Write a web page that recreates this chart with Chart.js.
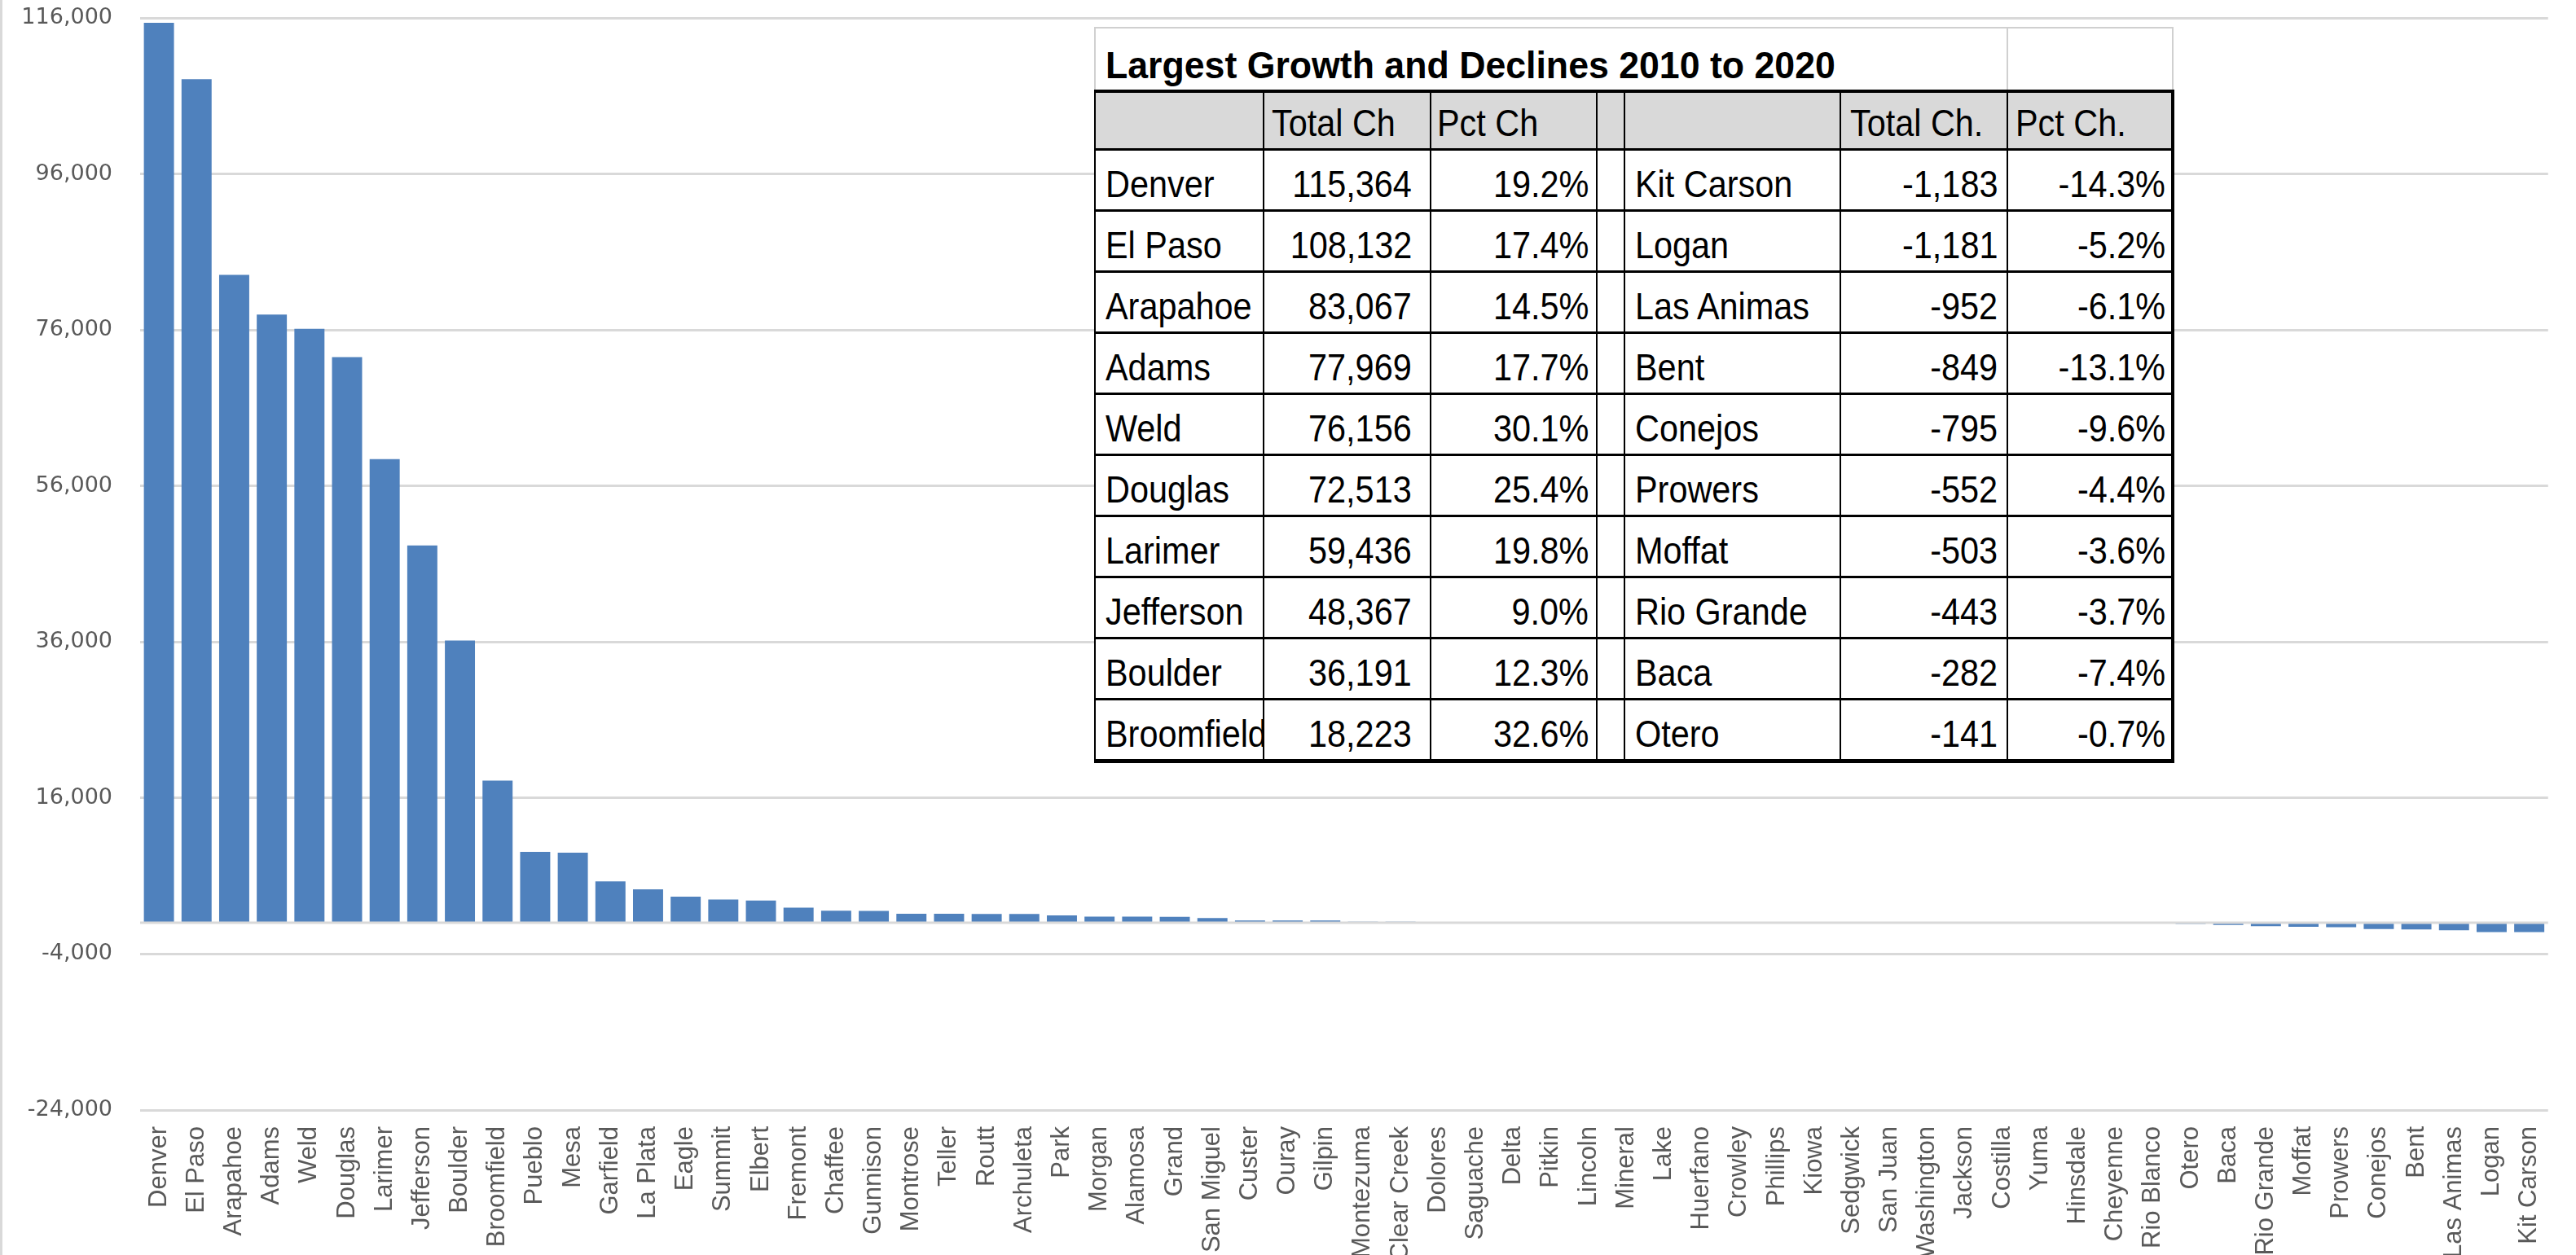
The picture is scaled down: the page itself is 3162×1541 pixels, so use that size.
<!DOCTYPE html>
<html>
<head>
<meta charset="utf-8">
<script src="https://cdn.jsdelivr.net/npm/chart.js@4"></script>
<style>
html,body{margin:0;padding:0;background:#fff;}
#wrap{position:relative;width:3162px;height:1541px;overflow:hidden;background:#fff;}
#leftline{position:absolute;left:0;top:0;width:3px;height:1541px;background:#d9d9d9;}
#c{position:absolute;left:0;top:0;}
#tbl{position:absolute;left:1343px;top:33px;border-collapse:collapse;table-layout:fixed;width:1323px;
  font-family:"Liberation Sans",Arial,sans-serif;font-size:46px;color:#000;background:#fff;}
#tbl td{padding:0;overflow:hidden;white-space:nowrap;vertical-align:bottom;line-height:46px;padding-bottom:8px;}
#tbl tr.title td{height:67px;border-top:2px solid #d0d0d0;}
#tbl tr.title td.tt{border-left:2px solid #d0d0d0;font-weight:bold;font-size:47px;padding-left:12px;padding-bottom:7px;}
#tbl tr.title td.t7{border-left:2px solid #d0d0d0;border-right:2px solid #d0d0d0;}
#tbl tr.head td{background:#d9d9d9;border-top:4px solid #000;height:60px;}
#tbl tr.body td, #tbl tr.head td{border-left:2px solid #000;border-right:2px solid #000;border-bottom:3px solid #000;}
#tbl tr.body td{height:64px;}
#tbl tr.body td:nth-child(7), #tbl tr.head td:nth-child(7){border-right:4px solid #000;}
#tbl tr.last td{border-bottom:5px solid #000;}
.t{display:inline-block;transform:scaleX(0.9);}
.tt .t{transform:scaleX(0.95);}
td.l{text-align:left;}
td.l .t{transform-origin:0 100%;}
td.r{text-align:right;}
td.r .t{transform-origin:100% 100%;}
</style>
</head>
<body>
<div id="wrap">
  <canvas id="c" width="3162" height="1541"></canvas>
  <div id="leftline"></div>
  <table id="tbl">
    <colgroup>
      <col style="width:207px"><col style="width:205px"><col style="width:204px"><col style="width:34px">
      <col style="width:265px"><col style="width:205px"><col style="width:203px">
    </colgroup>
    <tbody id="tb"></tbody>
  </table>
</div>
<script>
// ---------------- data ----------------
const counties = ["Denver","El Paso","Arapahoe","Adams","Weld","Douglas","Larimer","Jefferson","Boulder","Broomfield",
  "Pueblo","Mesa","Garfield","La Plata","Eagle","Summit","Elbert","Fremont","Chaffee","Gunnison",
  "Montrose","Teller","Routt","Archuleta","Park","Morgan","Alamosa","Grand","San Miguel","Custer",
  "Ouray","Gilpin","Montezuma","Clear Creek","Dolores","Saguache","Delta","Pitkin","Lincoln","Mineral",
  "Lake","Huerfano","Crowley","Phillips","Kiowa","Sedgwick","San Juan","Washington","Jackson","Costilla",
  "Yuma","Hinsdale","Cheyenne","Rio Blanco","Otero","Baca","Rio Grande","Moffat","Prowers","Conejos",
  "Bent","Las Animas","Logan","Kit Carson"];
const totalChange = [115364,108132,83067,77969,76156,72513,59436,48367,36191,18223,
  9100,8980,5300,4300,3350,3000,2850,1950,1540,1530,
  1150,1150,1140,1130,940,800,790,780,600,310,
  300,290,140,130,110,105,95,80,78,60,
  48,40,37,33,18,10,2,1,-6,-10,
  -21,-21,-34,-52,-141,-282,-443,-503,-552,-795,
  -849,-952,-1181,-1183];
const yTickValues = [-24000,-4000,16000,36000,56000,76000,96000,116000];

const tableTitle = "Largest Growth and Declines 2010 to 2020";
const tableHeaders = ["","Total Ch","Pct Ch","","","Total Ch.","Pct Ch."];
const growthNames = ["Denver","El Paso","Arapahoe","Adams","Weld","Douglas","Larimer","Jefferson","Boulder","Broomfield"];
const growthTotal = [115364,108132,83067,77969,76156,72513,59436,48367,36191,18223];
const growthPct = [19.2,17.4,14.5,17.7,30.1,25.4,19.8,9.0,12.3,32.6];
const declineNames = ["Kit Carson","Logan","Las Animas","Bent","Conejos","Prowers","Moffat","Rio Grande","Baca","Otero"];
const declineTotal = [-1183,-1181,-952,-849,-795,-552,-503,-443,-282,-141];
const declinePct = [-14.3,-5.2,-6.1,-13.1,-9.6,-4.4,-3.6,-3.7,-7.4,-0.7];

// ---------------- table ----------------
const fmtN = v => v.toLocaleString('en-US');
const fmtP = v => v.toFixed(1) + '%';
const colPad = [
  {a:'l',p:12},{a:'r',p:22},{a:'r',p:9},{a:'l',p:0},{a:'l',p:12},{a:'r',p:11},{a:'r',p:7}
];
const headPad = [12,9,7,0,12,11,9];
function cell(text, align, pad){
  const td = document.createElement('td');
  td.className = align;
  if (align === 'l') td.style.paddingLeft = pad + 'px'; else td.style.paddingRight = pad + 'px';
  const s = document.createElement('span'); s.className = 't'; s.textContent = text;
  td.appendChild(s);
  return td;
}
const tb = document.getElementById('tb');
{
  const tr = document.createElement('tr'); tr.className = 'title';
  const td = document.createElement('td'); td.colSpan = 6; td.className = 'tt l';
  const s = document.createElement('span'); s.className = 't'; s.textContent = tableTitle; td.appendChild(s);
  tr.appendChild(td);
  const td7 = document.createElement('td'); td7.className = 't7'; tr.appendChild(td7);
  tb.appendChild(tr);
}
{
  const tr = document.createElement('tr'); tr.className = 'head';
  tableHeaders.forEach((h,i) => tr.appendChild(cell(h, 'l', headPad[i])));
  tb.appendChild(tr);
}
for (let i = 0; i < growthNames.length; i++) {
  const tr = document.createElement('tr');
  tr.className = 'body' + (i === growthNames.length - 1 ? ' last' : '');
  const vals = [growthNames[i], fmtN(growthTotal[i]), fmtP(growthPct[i]), '', declineNames[i], fmtN(declineTotal[i]), fmtP(declinePct[i])];
  vals.forEach((v,j) => tr.appendChild(cell(v, colPad[j].a, colPad[j].p)));
  tb.appendChild(tr);
}

// ---------------- chart ----------------
const zeroLine = {
  id: 'zeroLine',
  afterDatasetsDraw(chart) {
    const y = chart.scales.y.getPixelForValue(0);
    const {left, right} = chart.chartArea;
    const ctx = chart.ctx;
    ctx.save();
    ctx.strokeStyle = '#d9d9d9';
    ctx.lineWidth = 3;
    ctx.beginPath(); ctx.moveTo(left, y); ctx.lineTo(right, y); ctx.stroke();
    ctx.restore();
  }
};

new Chart(document.getElementById('c'), {
  type: 'bar',
  data: {
    labels: counties,
    datasets: [{
      data: totalChange,
      backgroundColor: '#4f81bd',
      borderWidth: 0,
      barPercentage: 0.8,
      categoryPercentage: 1.0
    }]
  },
  options: {
    responsive: false,
    devicePixelRatio: 1,
    animation: false,
    layout: { padding: { left: 2, right: 22, top: 22, bottom: 0 } },
    plugins: { legend: { display: false }, tooltip: { enabled: false }, title: { display: false } },
    scales: {
      x: {
        grid: { display: false, drawTicks: false },
        border: { display: false },
        ticks: {
          autoSkip: false, maxRotation: 90, minRotation: 90, padding: 20,
          color: '#595959', font: { family: '"Liberation Sans", Arial, sans-serif', size: 31 }
        },
        afterFit(scale) { scale.height = 178; }
      },
      y: {
        min: -24000, max: 116000,
        grid: { color: '#d9d9d9', lineWidth: 3, drawTicks: false },
        border: { display: false },
        afterBuildTicks(scale) { scale.ticks = yTickValues.map(v => ({ value: v })); },
        ticks: {
          padding: 34, color: '#595959',
          font: { family: '"DejaVu Sans", sans-serif', size: 27 },
          callback: v => Number(v).toLocaleString('en-US')
        },
        afterFit(scale) { scale.width = 170; scale.paddingTop = 0; scale.paddingBottom = 0; }
      }
    }
  },
  plugins: [zeroLine]
});
</script>
</body>
</html>
